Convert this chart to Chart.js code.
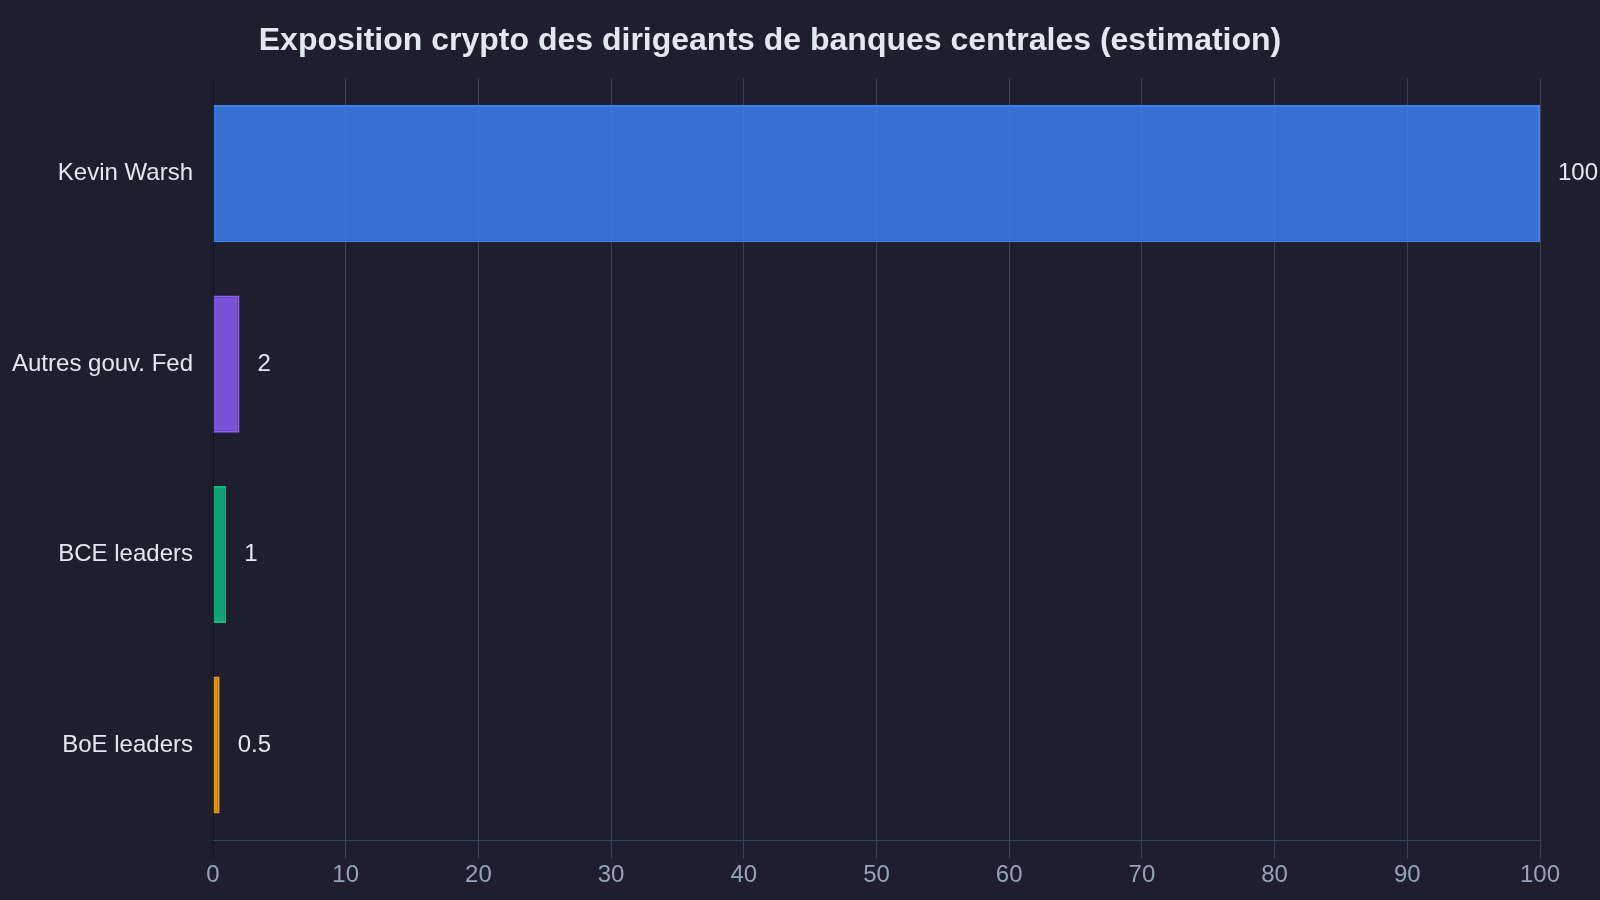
<!DOCTYPE html>
<html lang="fr">
<head>
<meta charset="utf-8">
<title>Exposition crypto</title>
<script src="https://cdn.jsdelivr.net/npm/chart.js@4.4.1/dist/chart.umd.min.js"></script>
<style>
  html, body {
    margin: 0;
    padding: 0;
    background: #1e1e2e;
  }
  canvas {
    display: block;
  }
</style>
</head>
<body>
<canvas id="myChart" width="1600" height="900"></canvas>
<script>
const LEADERS = ["Kevin Warsh", "Autres gouv. Fed", "BCE leaders", "BoE leaders"];
const EXPOSURE = [100, 2, 1, 0.5];
const X_TICKS = [0, 10, 20, 30, 40, 50, 60, 70, 80, 90, 100];

const BORDER_COLORS = ["#3b82f6", "#8b5cf6", "#10b981", "#f59e0b"];
const FILL_COLORS = [
  "rgba(59, 130, 246, 0.82)",
  "rgba(139, 92, 246, 0.85)",
  "rgba(16, 185, 129, 0.85)",
  "rgba(245, 158, 11, 0.9)",
];

const FONT = '"Liberation Sans", Arial, sans-serif';

// draws the value next to the end of each bar
const valueLabels = {
  id: "valueLabels",
  afterDatasetsDraw(chart) {
    const ctx = chart.ctx;
    const meta = chart.getDatasetMeta(0);
    ctx.save();
    ctx.font = "24px " + FONT;
    ctx.fillStyle = "#e2e8f0";
    ctx.textAlign = "left";
    ctx.textBaseline = "middle";
    meta.data.forEach((bar, i) => {
      ctx.fillText(String(EXPOSURE[i]), bar.x + 18, bar.y);
    });
    ctx.restore();
  },
};

const ctx = document.getElementById("myChart").getContext("2d");

new Chart(ctx, {
  type: "bar",
  data: {
    labels: LEADERS,
    datasets: [
      {
        label: "Exposition",
        data: EXPOSURE,
        backgroundColor: FILL_COLORS,
        borderColor: BORDER_COLORS,
        borderWidth: 2,
      },
    ],
  },
  options: {
    indexAxis: "y",
    responsive: false,
    animation: false,
    layout: {
      padding: { top: 12, left: 0, right: 60, bottom: 7 },
    },
    scales: {
      x: {
        min: 0,
        max: 100,
        afterBuildTicks: function (axis) {
          axis.ticks = X_TICKS.map((v) => ({ value: v }));
        },
        grid: {
          color: function (context) {
            if (context.tick && context.tick.value === 0) {
              return "#111119";
            }
            return "#36455a";
          },
          tickLength: 18,
          lineWidth: 1,
        },
        border: {
          color: "#36455a",
        },
        ticks: {
          color: "#94a3b8",
          padding: 3,
          font: { family: FONT, size: 24 },
        },
      },
      y: {
        afterFit: function (axis) {
          axis.width = 213;
        },
        grid: {
          display: false,
          drawTicks: false,
        },
        border: {
          display: false,
        },
        ticks: {
          color: "#e2e8f0",
          padding: 20,
          font: { family: FONT, size: 24 },
        },
      },
    },
    plugins: {
      legend: { display: false },
      tooltip: { enabled: false },
      title: {
        display: true,
        text: "Exposition crypto des dirigeants de banques centrales (estimation)",
        color: "#e2e8f0",
        padding: { top: 10, bottom: 18 },
        font: { family: FONT, size: 32, weight: "bold" },
      },
    },
  },
  plugins: [valueLabels],
});
</script>
</body>
</html>
